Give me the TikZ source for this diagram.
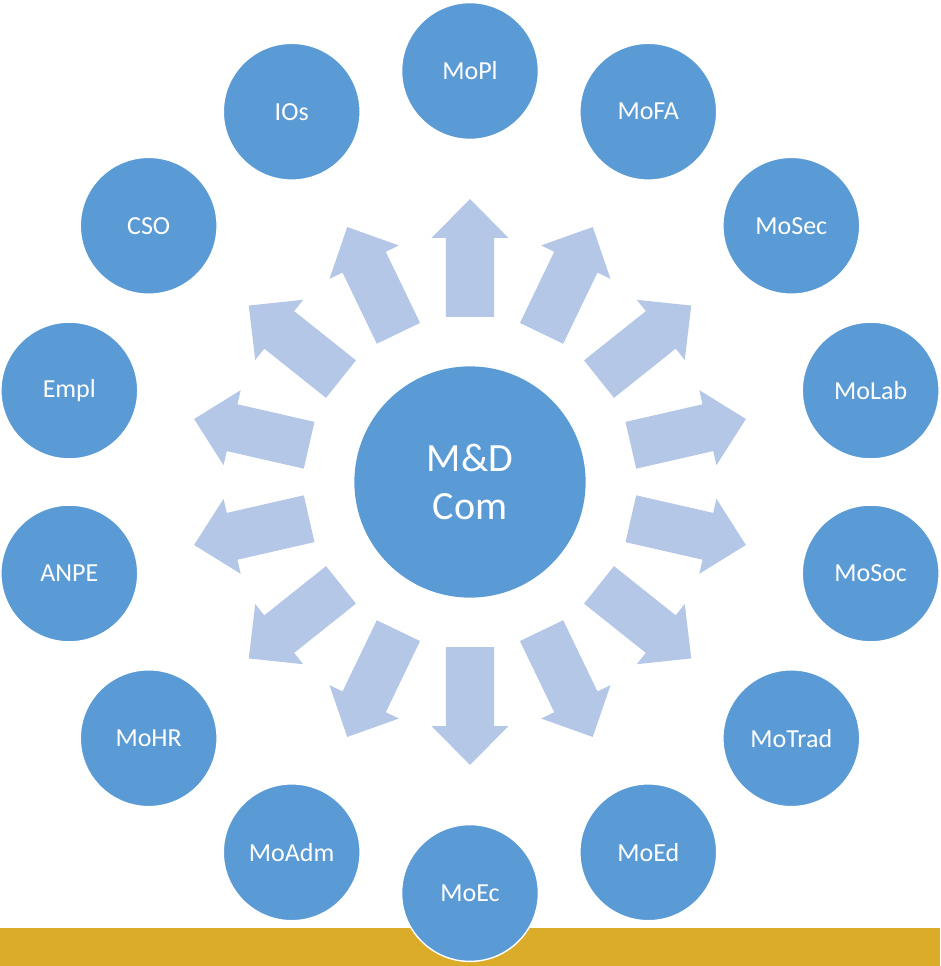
\documentclass[tikz,border=0pt]{standalone}
\usepackage{fontspec}
\setmainfont{Carlito}
\definecolor{circblue}{RGB}{91,155,213}
\definecolor{arrowblue}{RGB}{180,199,231}
\definecolor{bargold}{RGB}{218,172,41}
\tikzset{
  org/.style={circle, fill=circblue, draw=white, line width=1pt, minimum size=3.42cm, inner sep=0pt, text=white, font=\fontsize{18.5}{22}\selectfont},
  hub/.style={circle, fill=circblue, minimum size=5.78cm, inner sep=0pt, text=white, align=center, font=\fontsize{28.5}{33.5}\selectfont},
  blockarrow/.style={fill=arrowblue}
}
\begin{document}
\begin{tikzpicture}[x=0.025cm, y=0.025cm]
\useasboundingbox (-470,-484) rectangle (470,482);
\fill[bargold] (-470,-484) rectangle (470,-446);
\foreach \a in {90,64.29,38.57,12.86,-12.86,-38.57,-64.29,-90,-115.71,-141.43,-167.14,167.14,141.43,115.71}
  \fill[blockarrow, rotate=\a] (165,-24) -- (244,-24) -- (244,-38.5) -- (283,0) -- (244,38.5) -- (244,24) -- (165,24) -- cycle;
\node (mdcom) at (0,0) [hub] {M\&D\\Com};
\node (mopl) at (90:411) [org] {MoPl};
\node (mofa) at (64.29:411) [org] {MoFA};
\node (mosec) at (38.57:411) [org] {MoSec};
\node (molab) at (12.86:411) [org] {MoLab};
\node (mosoc) at (-12.86:411) [org] {MoSoc};
\node (motrad) at (-38.57:411) [org] {MoTrad};
\node (moed) at (-64.29:411) [org] {MoEd};
\node (moec) at (-90:411) [org] {MoEc};
\node (moadm) at (-115.71:411) [org] {MoAdm};
\node (mohr) at (-141.43:411) [org] {MoHR};
\node (anpe) at (-167.14:411) [org] {ANPE};
\node (empl) at (167.14:411) [org] {Empl};
\node (cso) at (141.43:411) [org] {CSO};
\node (ios) at (115.71:411) [org] {IOs};
\end{tikzpicture}
\end{document}
